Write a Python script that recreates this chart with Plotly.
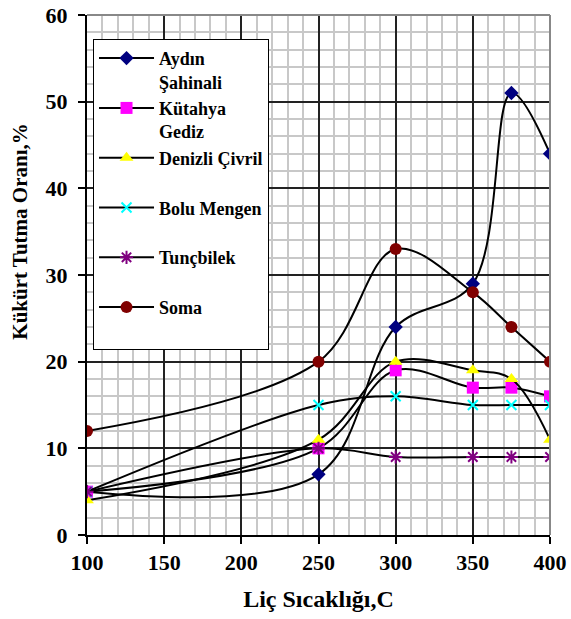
import plotly.graph_objects as go

temps = [100, 250, 300, 350, 375, 400]
aydin = [5, 7, 24, 29, 51, 44]
kutahya = [5, 10, 19, 17, 17, 16]
denizli = [4, 11, 20, 19, 18, 11]
bolu = [5, 15, 16, 15, 15, 15]
tuncbilek = [5, 10, 9, 9, 9, 9]
soma = [12, 20, 33, 28, 24, 20]

names = ["<b>Aydın<br>Şahinali</b>", "<b>Kütahya<br>Gediz</b>", "<b>Denizli Çivril</b><br> ",
         "<b>Bolu Mengen</b><br> ", "<b>Tunçbilek</b><br> ", "<b>Soma</b><br> "]
series = [aydin, kutahya, denizli, bolu, tuncbilek, soma]
symbols = ["diamond", "square", "triangle-up", "x-thin", "asterisk", "circle"]
colors = ["#000080", "#FF00FF", "#FFFF00", "#00FFFF", "#800080", "#800000"]
sizes = [11, 12, 12, 10, 11, 12]

FONT = "Liberation Serif"
fig = go.Figure()
for i, (n, s, sym, c, sz) in enumerate(zip(names, series, symbols, colors, sizes)):
    line_marker = dict(symbol=sym, color=c, size=sz)
    if sym in ("x-thin", "asterisk"):
        line_marker["line"] = dict(color=c, width=2)
    fig.add_trace(go.Scatter(
        x=temps, y=s, name=n, mode="lines+markers",
        line=dict(color="black", width=2, shape="spline", smoothing=1),
        marker=line_marker, legendgroup=str(i)))

# gray frame on top and right of the plot area
fig.add_shape(type="line", xref="x domain", yref="y domain", x0=0, x1=1, y0=1, y1=1,
              line=dict(color="#888888", width=2))
fig.add_shape(type="line", xref="x domain", yref="y domain", x0=1, x1=1, y0=0, y1=1,
              line=dict(color="#888888", width=2))

fig.add_annotation(text="<b>Kükürt Tutma Oranı,%</b>", xref="paper", yref="paper",
                   x=-0.145, y=0.583, xanchor="center", yanchor="middle", textangle=-90,
                   showarrow=False, font=dict(family=FONT, size=21, color="black"))

fig.update_layout(
    width=571, height=619,
    margin=dict(l=87, r=21, t=15, b=84),
    paper_bgcolor="white", plot_bgcolor="white",
    font=dict(family=FONT, color="black"),
    showlegend=True,
    legend=dict(x=0.013, y=0.954, xanchor="left", yanchor="top",
                bgcolor="white", bordercolor="black", borderwidth=1,
                font=dict(family=FONT, size=18, color="black"),
                itemwidth=55,
                valign="top", traceorder="grouped", tracegroupgap=0),
    xaxis=dict(range=[100, 400], dtick=50, tick0=100, automargin=False,
               showgrid=True, gridcolor="#222222", gridwidth=1.5,
               minor=dict(dtick=10, showgrid=True, gridcolor="#c8c8c8", gridwidth=2),
               showline=True, linecolor="black", linewidth=2,
               ticks="outside", ticklen=7, tickcolor="black", tickwidth=1.5,
               tickfont=dict(family=FONT, size=22, color="black", weight="bold"),
               title=dict(text="<b>Liç Sıcaklığı,C</b>", font=dict(family=FONT, size=24), standoff=16),
               zeroline=False),
    yaxis=dict(range=[0, 60], dtick=10, automargin=False,
               showgrid=True, gridcolor="#222222", gridwidth=1.5,
               minor=dict(dtick=2, showgrid=True, gridcolor="#c8c8c8", gridwidth=2),
               showline=True, linecolor="black", linewidth=2,
               ticks="outside", ticklen=7, tickcolor="black", tickwidth=1.5,
               ticklabelstandoff=6,
               tickfont=dict(family=FONT, size=22, color="black", weight="bold"),
               zeroline=False),
)
fig.write_html("out.html", config={"displayModeBar": False},
               post_script="document.body.style.margin='0';")
